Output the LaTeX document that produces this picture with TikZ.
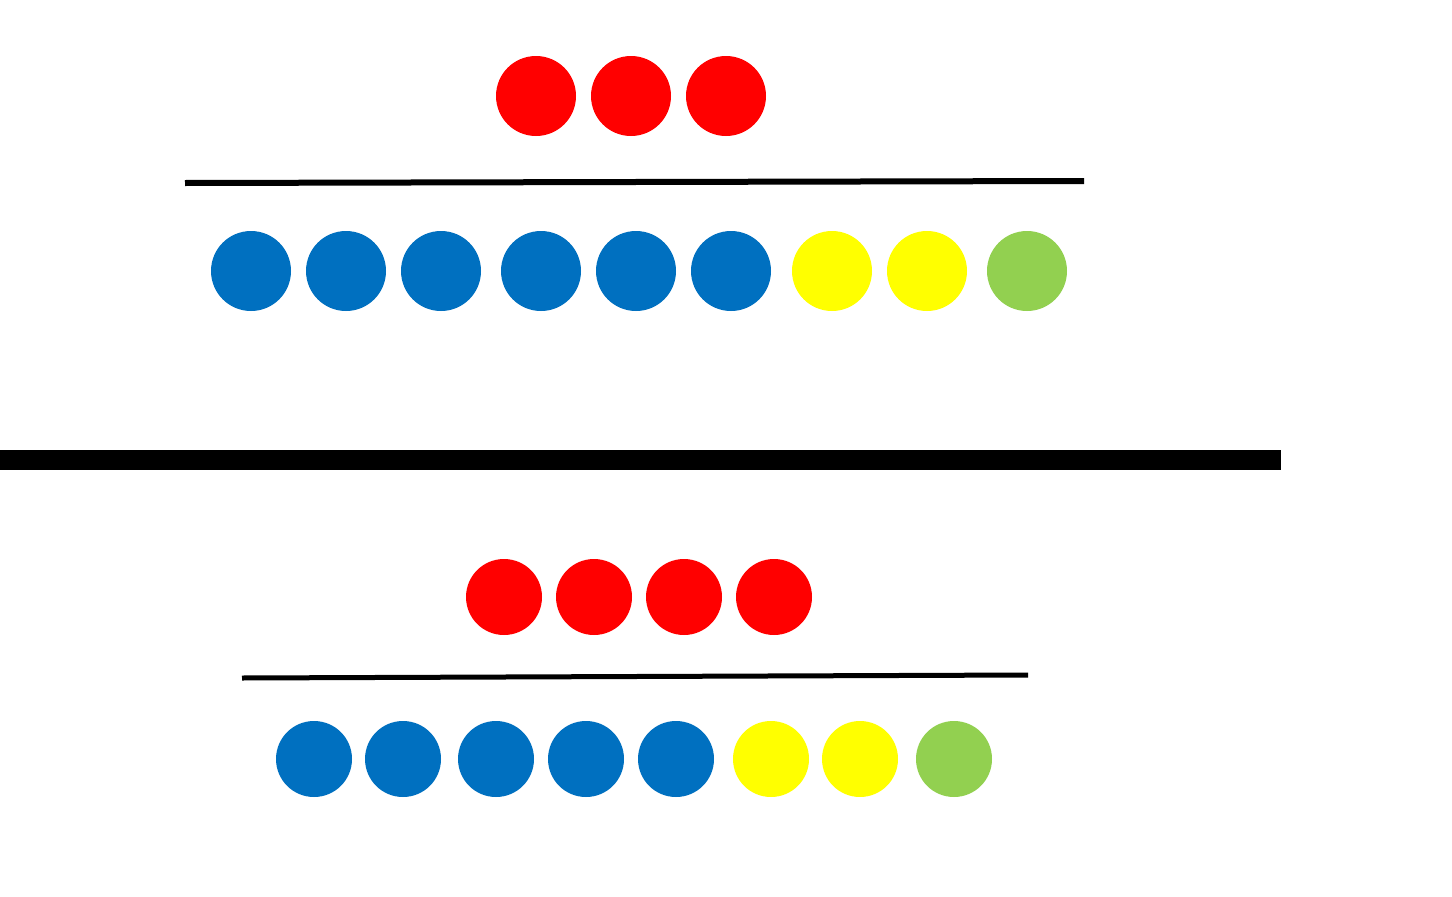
\documentclass[tikz,border=0pt]{standalone}
\definecolor{rd}{HTML}{FF0000}
\definecolor{bl}{HTML}{0070C0}
\definecolor{yl}{HTML}{FFFF00}
\definecolor{gr}{HTML}{92D050}
\begin{document}
\begin{tikzpicture}[x=1pt,y=-1pt,
  dotA/.style={circle,inner sep=0pt,minimum size=80pt,draw=none},
  dotB/.style={circle,inner sep=0pt,minimum size=76pt,draw=none}]
\useasboundingbox[fill=white] (0,0) rectangle (1452,897);
% top
\foreach \x [count=\i] in {536,631,726}
  \node[dotA,fill=rd] (tr\i) at (\x,96) {};
\coordinate (l1a) at (185,183);
\coordinate (l1b) at (1084,181);
\draw[line width=6pt] (l1a) -- (l1b);
\foreach \x/\c [count=\i] in {251/bl,346/bl,441/bl,541/bl,636/bl,731/bl,832/yl,927/yl,1027/gr}
  \node[dotA,fill=\c] (tb\i) at (\x,271) {};
% separator
\coordinate (sa) at (0,460);
\coordinate (sb) at (1281,460);
\draw[line width=20pt] (sa) -- (sb);
% bottom
\foreach \x [count=\i] in {504,594,684,774}
  \node[dotB,fill=rd] (br\i) at (\x,597) {};
\coordinate (l2a) at (242,678);
\coordinate (l2b) at (1028,675);
\draw[line width=5pt] (l2a) -- (l2b);
\foreach \x/\c [count=\i] in {314/bl,403/bl,496/bl,586/bl,676/bl,771/yl,860/yl,954/gr}
  \node[dotB,fill=\c] (bb\i) at (\x,759) {};
\end{tikzpicture}
\end{document}
